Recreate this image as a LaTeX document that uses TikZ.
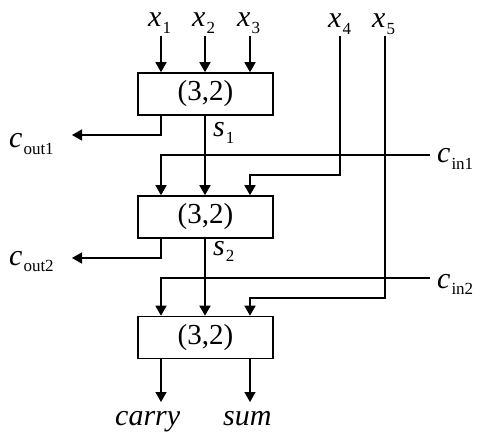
\documentclass[tikz,border=0pt]{standalone}
\usepackage{fontspec}
\setmainfont{Liberation Serif}
\usetikzlibrary{arrows.meta,calc}
\newcommand\subl[2]{\textit{#1}\kern1pt\raisebox{-0.5ex}{\fontsize{17}{17}\selectfont #2}}
\begin{document}
\begin{tikzpicture}[x=1pt,y=-1pt,
  wire/.style={line width=1.6pt},
  arr/.style={wire,-{Triangle[width=11pt,length=10pt]}},
  csa/.style={draw,line width=1.6pt,minimum width=135pt,minimum height=42pt,inner sep=0pt,font=\fontsize{29}{29}\selectfont},
  lab/.style={inner sep=0pt,anchor=base west,font=\fontsize{30}{30}\selectfont}]
\useasboundingbox (0,0) rectangle (480,436);
% boxes
\node[csa] (b1) at (205.5,94) {(3,2)};
\node[csa] (b2) at (205.5,217) {(3,2)};
\node[csa] (b3) at (205.5,337.5) {(3,2)};
% input labels
\node[lab] (x1) at (148,27) {\subl{x}{1}};
\node[lab] (x2) at (192,27) {\subl{x}{2}};
\node[lab] (x3) at (237,27) {\subl{x}{3}};
\node[lab] (x4) at (328,28) {\subl{x}{4}};
\node[lab] (x5) at (372,28) {\subl{x}{5}};
\coordinate (i1) at (161,36);
\coordinate (i2) at (205,36);
\coordinate (i3) at (250,36);
\coordinate (i4) at (340,36);
\coordinate (i5) at (385,36);
% side labels
\node[lab] (co1) at (9,148) {\subl{c}{out1}};
\node[lab] (co2) at (9,265) {\subl{c}{out2}};
\node[lab] (ci1) at (437,163) {\subl{c}{in1}};
\node[lab] (ci2) at (437,288) {\subl{c}{in2}};
\coordinate (ce1) at (430,155);
\coordinate (ce2) at (430,278);
\coordinate (ao1) at (72,135);
\coordinate (ao2) at (72,258);
\node[lab] (s1) at (213,137) {\subl{s}{1}};
\node[lab] (s2) at (213,255) {\subl{s}{2}};
% outputs
\node[lab] (carry) at (115,425) {\textit{carry}};
\node[lab] (sum) at (223,425) {\textit{sum}};
\coordinate (o1) at (161,402);
\coordinate (o2) at (250,402);
% box 1 inputs
\draw[arr] (i1) -- (i1 |- b1.north);
\draw[arr] (i2) -- (i2 |- b1.north);
\draw[arr] (i3) -- (i3 |- b1.north);
% box 1 outputs
\draw[arr] (i1 |- b1.south) |- (ao1);
\draw[arr] (i2 |- b1.south) -- (i2 |- b2.north);
% cin1
\draw[arr] (ce1) -| (i1 |- b2.north);
% x4
\draw[arr] (i4) |- (250,175) -- (i3 |- b2.north);
% box 2 outputs
\draw[arr] (i1 |- b2.south) |- (ao2);
\draw[arr] (i2 |- b2.south) -- (i2 |- b3.north);
% cin2
\draw[arr] (ce2) -| (i1 |- b3.north);
% x5
\draw[arr] (i5) |- (250,298) -- (i3 |- b3.north);
% final outputs
\draw[arr] (i1 |- b3.south) -- (o1);
\draw[arr] (i3 |- b3.south) -- (o2);
\end{tikzpicture}
\end{document}
